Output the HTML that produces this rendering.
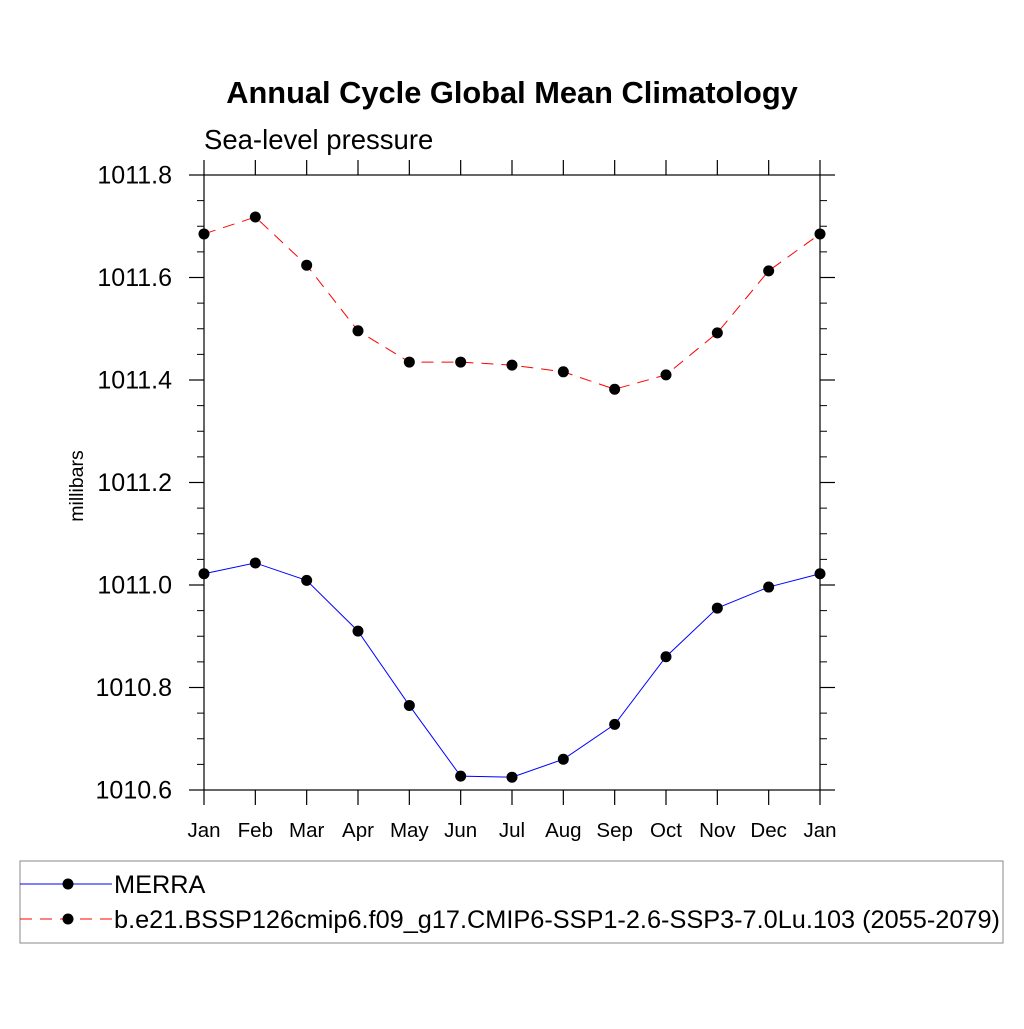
<!DOCTYPE html>
<html><head><meta charset="utf-8"><style>
body{margin:0;background:#fff}
svg text{font-family:"Liberation Sans",sans-serif}
</style></head><body>
<svg id="c" width="1024" height="1024" xmlns="http://www.w3.org/2000/svg">
<text x="512" y="103" text-anchor="middle" font-size="30.8" font-weight="bold">Annual Cycle Global Mean Climatology</text>
<text x="204" y="149" font-size="27.5">Sea-level pressure</text>
<text transform="translate(83,486) rotate(-90)" text-anchor="middle" font-size="19.5">millibars</text>
<g id="axes"></g>
<g id="series"></g>
<rect x="20" y="861" width="983" height="82" fill="none" stroke="#888" stroke-width="1"/>
<line x1="20" y1="884" x2="112" y2="884" stroke="#00f" stroke-width="1"/>
<circle cx="68" cy="884" r="5.5" fill="#000"/>
<text x="114" y="893" font-size="25.3">MERRA</text>
<line x1="20" y1="919" x2="112" y2="919" stroke="#f00" stroke-width="1" stroke-dasharray="12,8"/>
<circle cx="68" cy="919" r="5.5" fill="#000"/>
<text x="114" y="928" font-size="25.3">b.e21.BSSP126cmip6.f09_g17.CMIP6-SSP1-2.6-SSP3-7.0Lu.103 (2055-2079)</text>
</svg>
<script>
const months=["Jan","Feb","Mar","Apr","May","Jun","Jul","Aug","Sep","Oct","Nov","Dec","Jan"];
const merra=[1011.022,1011.043,1011.009,1010.910,1010.765,1010.627,1010.625,1010.660,1010.728,1010.860,1010.955,1010.996,1011.022];
const model=[1011.685,1011.718,1011.624,1011.496,1011.435,1011.435,1011.429,1011.416,1011.382,1011.410,1011.492,1011.613,1011.685];
const yTicks=[1010.6,1010.8,1011.0,1011.2,1011.4,1011.6,1011.8];
const yTickLabels=["1010.6","1010.8","1011.0","1011.2","1011.4","1011.6","1011.8"];
const L=204,R=820,T=175,B=790,ymin=1010.6,ymax=1011.8;
const xs=i=>L+(R-L)*i/(months.length-1);
const ys=v=>B-(v-ymin)/(ymax-ymin)*(B-T);
const NS="http://www.w3.org/2000/svg";
function mk(tag,attrs,parent){const e=document.createElementNS(NS,tag);for(const k in attrs)e.setAttribute(k,attrs[k]);parent.appendChild(e);return e;}
const ax=document.getElementById('axes');
let fr=mk('rect',{x:L,y:T,width:R-L,height:B-T,fill:'none',stroke:'#000','stroke-width':1.2},ax);


months.forEach((m,i)=>{
  const x=xs(i);
  let t=mk('line',{x1:x,y1:B,x2:x,y2:B+15,stroke:'#000','stroke-width':1.2},ax);
  
  
  let t2=mk('line',{x1:x,y1:T,x2:x,y2:T-15,stroke:'#000','stroke-width':1.2},ax);
  
  
  let lb=mk('text',{x:x,y:B+47,'text-anchor':'middle','font-size':20.5},ax);lb.textContent=m;
  
  
});
yTicks.forEach((v,i)=>{
  const y=ys(v);
  let t=mk('line',{x1:L-15,y1:y,x2:L,y2:y,stroke:'#000','stroke-width':1.2},ax);
  
  
  let t2=mk('line',{x1:R,y1:y,x2:R+15,y2:y,stroke:'#000','stroke-width':1.2},ax);
  
  
  let lb=mk('text',{x:L-32,y:y+8.5,'text-anchor':'end','font-size':25},ax);lb.textContent=yTickLabels[i];
  
  
  if(i<yTicks.length-1){for(let k=1;k<4;k++){const yy=ys(v+0.05*k);
    let m1=mk('line',{x1:L-7,y1:yy,x2:L,y2:yy,stroke:'#000','stroke-width':1},ax);
    
    
    let m2=mk('line',{x1:R,y1:yy,x2:R+7,y2:yy,stroke:'#000','stroke-width':1},ax);
    
    }}
});
const sg=document.getElementById('series');
function series(data,color,dash,name){
  const p=mk('polyline',{points:data.map((v,i)=>xs(i)+','+ys(v)).join(' '),fill:'none',stroke:color,'stroke-width':1,'stroke-dasharray':dash},sg);
  
  
  data.forEach((v,i)=>{const c=mk('circle',{cx:xs(i),cy:ys(v),r:5.5,fill:'#000'},sg);
    
    });
}
series(merra,'#00f','none','merra');
series(model,'#f00','12,8','model');
</script>
</body></html>
